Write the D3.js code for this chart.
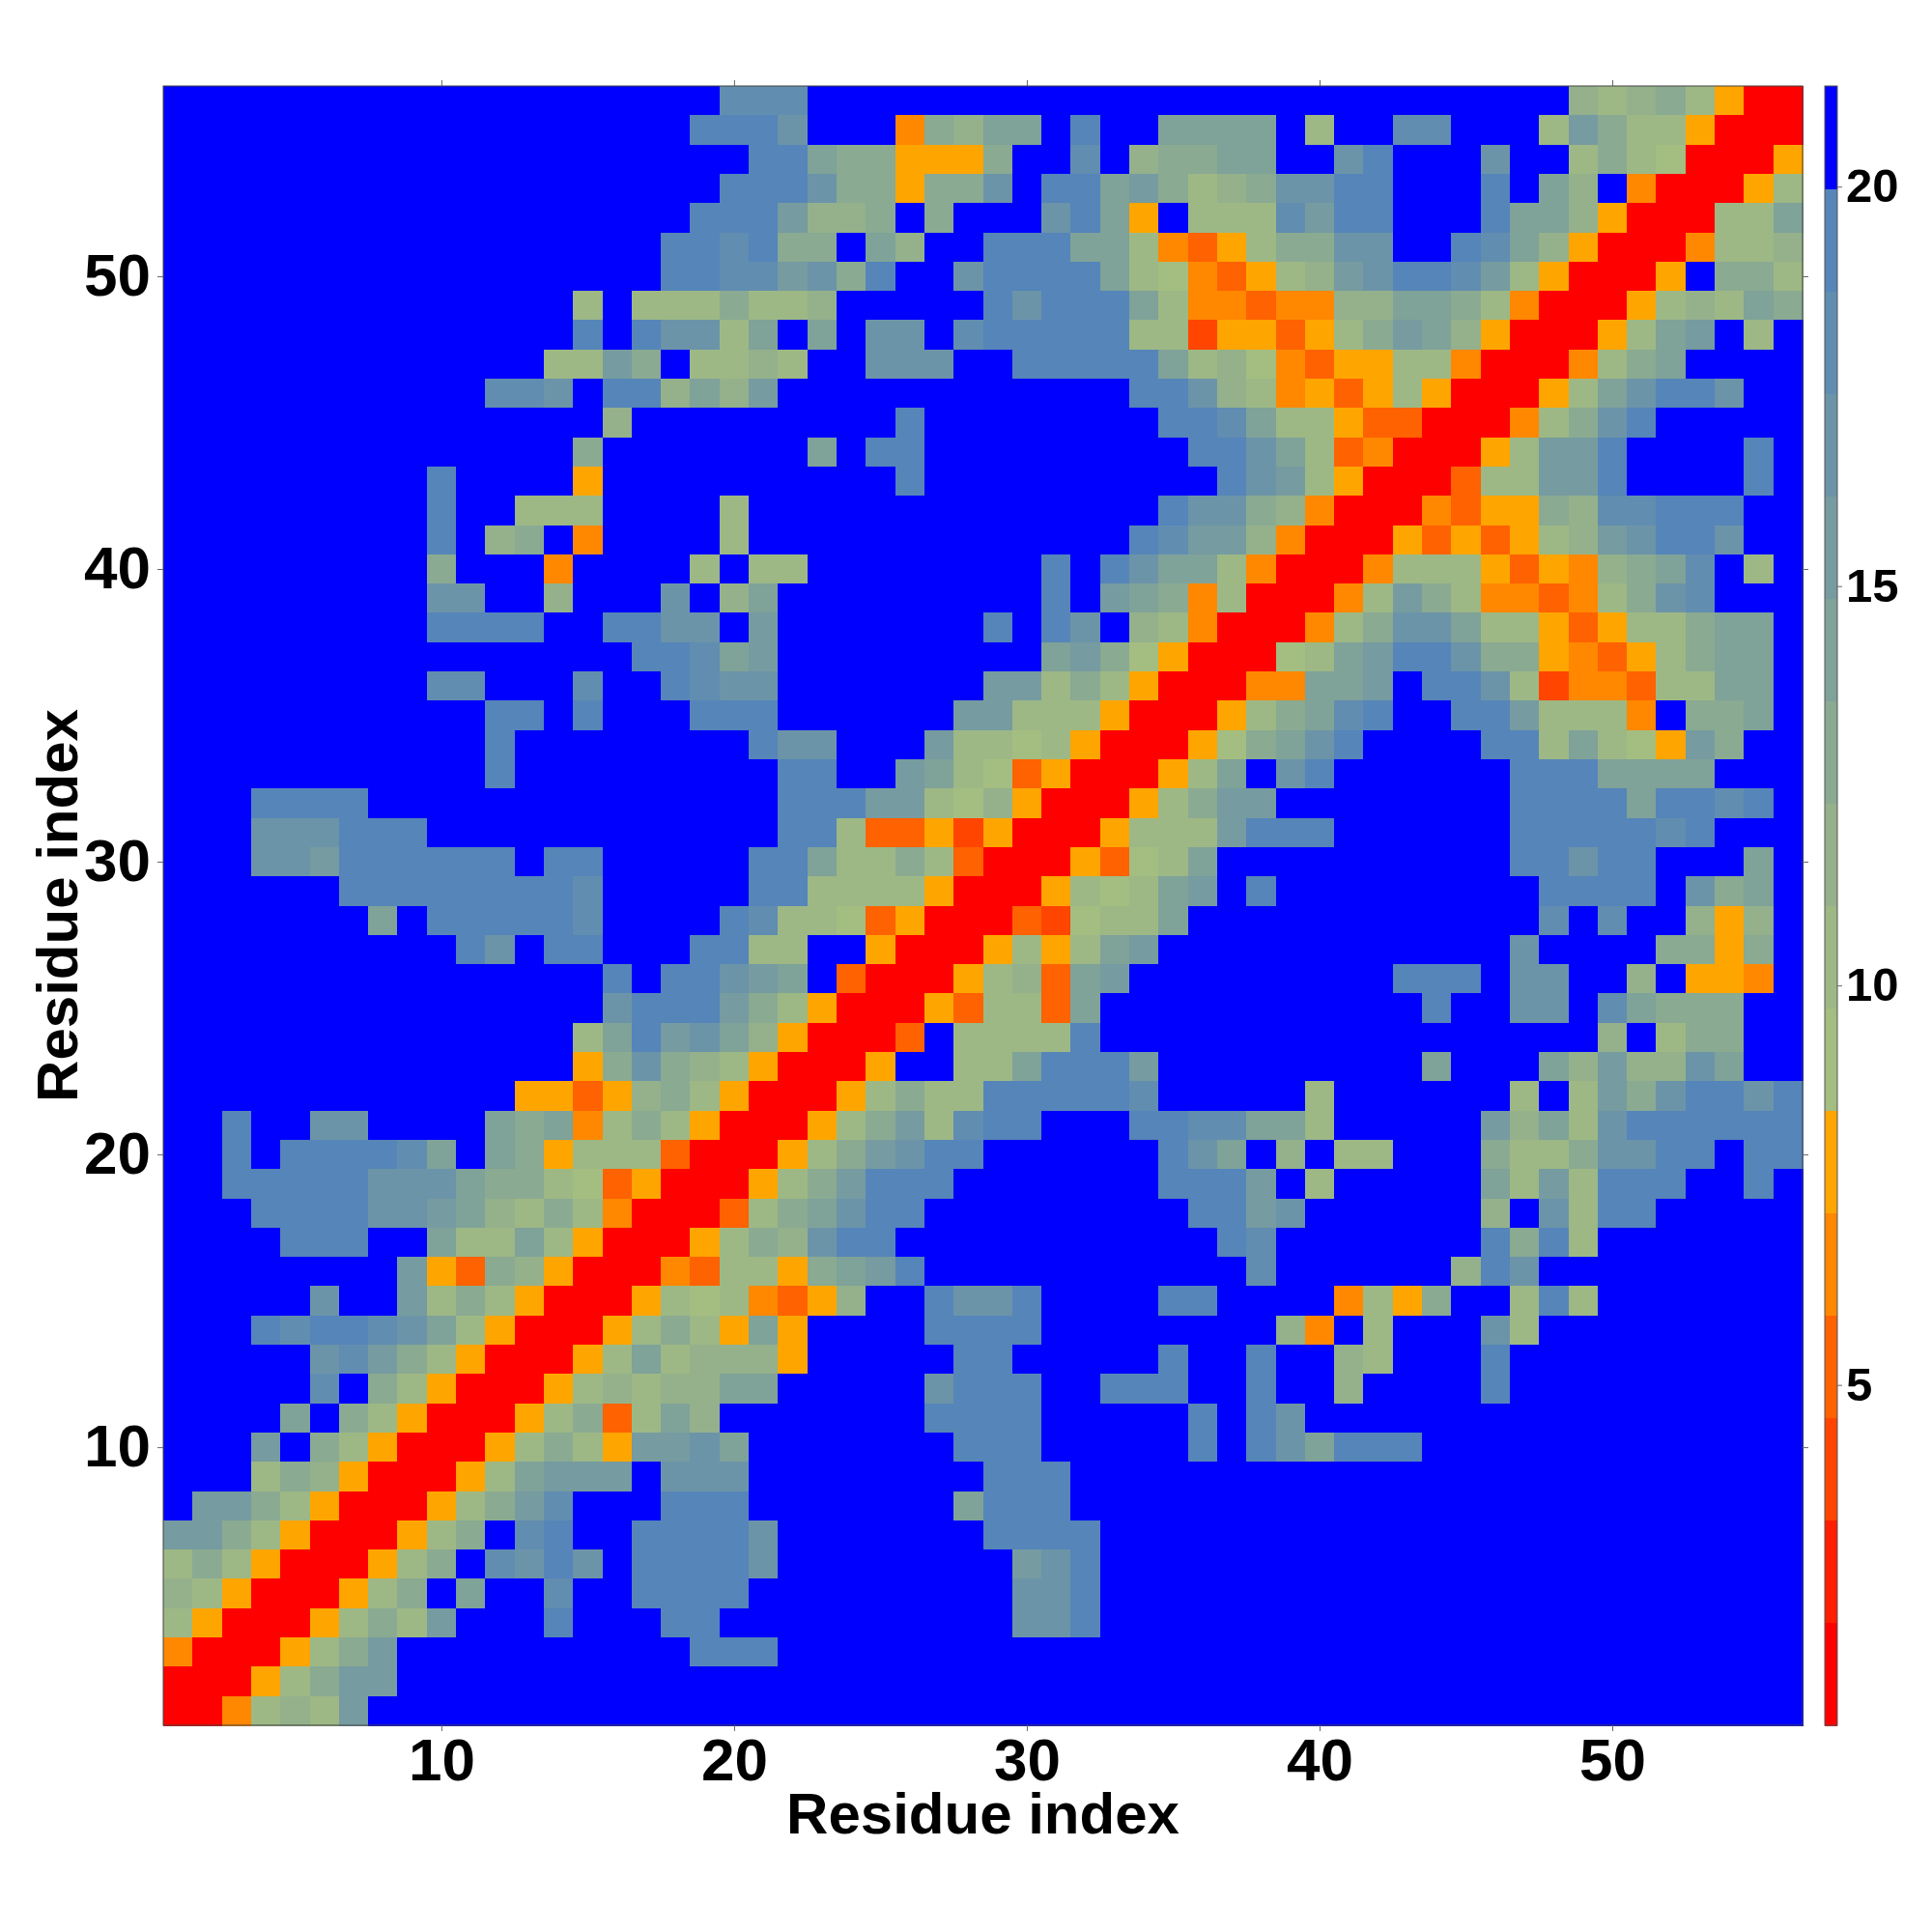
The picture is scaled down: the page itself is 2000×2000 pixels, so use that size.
<!DOCTYPE html>
<html>
<head>
<meta charset="utf-8">
<script src="https://cdn.jsdelivr.net/npm/d3@7"></script>
<style>
html,body{margin:0;padding:0;background:#fff}
svg{display:block}
text{font-family:"Liberation Sans",Arial,sans-serif;font-weight:bold;fill:#000}
</style>
</head>
<body>
<svg id="chart" width="2000" height="2000"></svg>
<script>
// Contact-map levels: one string per residue row, top row (56) first; each char is a colour band 0..f
const levelRows = [
"ffffffffffffffffff fdddfffffffffffffff fffffffffff87897500",
"ffffffffffffffffff eeecfff498aafeffaaa af7ffddfff7b9775000",
"ffffffffffffffffff ffeea995559ffdf899a affcefffcff79760005",
"ffffffffffffffffff feeec99599cfeeab978 9cceefffefa8f400057",
"ffffffffffffffffff eeeb889f9fffcea5f77 7dbeefffeaa8500077a",
"fffffffffffffffffe ede99fa8ffeeeaa7435 799ccffeda850004778",
"fffffffffffffffffe eddbc9effceeeea7643 578bceedb750005f997",
"ffffffffffffff7f77 79778fffffeceeea744 34488aa9740005787a9",
"ffffffffffffffefec c7afafccfdeeeee7725 53579ba8500057abf7f",
"fffffffffffff77b9f 7787ffcccffeeeeea78 64355774000479affff",
"fffffffffffddcfee8 a8bffffffffffffeec8 745357500057aceecff",
"fffffffffffffff8ff fffffffeffffffffeed a77533000479cefffff",
"ffffffffffffff9fff ffffafeefffffffffee ca73400057bbeffffef",
"fffffffffeffff5fff fffffffeffffffffffe cb75000377bbeffffef",
"fffffffffeff777fff f7ffffffffffffffecc 984000435598ddeeeff",
"fffffffffef89f4fff f7fffffffffffffedbb 840005353578bceecff",
"fffffffff9fff4ffff 7f77ffffffffefecaa7 40004777535489adf7f",
"fffffffffccff8fffc f8afffffffffefba947 00047b97443479cdfff",
"fffffffffeeeeffeec cfbfffffffefecf8740 00479cca77535779aaf",
"ffffffffffffffffee dabfffffffffab96500 067abeec99543579aaf",
"fffffffffddfffdffe dccfffffffbb7975000 44aabfeec7244377aaf",
"fffffffffffeefefff eeeffffffbb77750005 79adeffeeb7774f99af",
"fffffffffffeffffff ffeccfffb7767500056 9aceffffee7a765b9ff",
"fffffffffffeffffff fffeeffba763500057a fceffffffeeeaaaafff",
"fffeeeefffffffffff fffeeebb7685000579b bffffffffeeeeaeedef",
"fffccceeefffffffff fffee7335250005777b eeeffffffeeeeedefff",
"fffccbeeeeeefeefff ffeea779730005367af fffffffffeeceefffaf",
"ffffffeeeeeeeedfff ffee777750005767abf efffffffffeeeefc9af",
"fffffffafeeeeedfff fed7763500032677aff ffffffffffdfdff858f",
"ffffffffffecfeefff ee77ff50005757abfff fffffffffcffff9959f",
"fffffffffffffffefe ecbaf30005783abffff fffffeeefccff8f554f",
"fffffffffffffffcee eb97500053773afffff ffffffeffccfda999ff",
"ffffffffffffff7aeb ca850003f7777efffff ffffffffffff8f799ff",
"ffffffffffffff59c9 8750005ff77aeeebfff ffffffafffa8b88caff",
"ffffffffffff553589 7500057977eeeeedfff ff7ffffff7f7b9ceece",
"ffeffccffffa9a4797 5000579b7deefffeedd aa7fffffb8a7ceeeeee",
"ffefeeeedafa957773 000579bceeffffffeca f8f77fff9779cceefee",
"ffeeeeeccca9976350 00579beeefffffffeee bf7fffffa7b7eeeffef",
"fffeeeeccba8797400 0379aceefffffffffee bcffffff8fc7eefffff",
"ffffeeeffa77a75000 5798ceefffffffffffe dfffffffe9e7fffffff",
"ffffffffb539850004 37759abefffffffffff dffffff8ecfffffffff",
"fffffcffb797500057 674358ffecceffffeef fff4759ff7e7fffffff",
"fffedeedca75000579 75a5ffffeeeefffffff f84f7fffc7fffffffff",
"fffffcdb97500057a7 8885fffffeefffffeff eff87fffeffffffffff",
"fffffdf97500057878 8aafffffceeeffeeeff eff8ffffeffffffffff",
"ffffaf97500057937a 8fffffffeeeefffffef ecfffffffffffffffff",
"fffbf97500057975bb cafffffffeeefffffef ecaeeefffffffffffff",
"fff798500057abbbfc ccffffffffeeeffffff fffffffffffffffffff",
"fbb975000579bdfffe eefffffffaeeeffffff fffffffffffffffffff",
"bb975000579fdeffee eecfffffffeeeefffff fffffffffffffffffff",
"7975000579fdcecfee eecffffffffbcefffff fffffffffffffffffff",
"875000579faffdffee eefffffffffccefffff fffffffffffffffffff",
"750005797bfffefffe effffffffffccefffff fffffffffffffffffff",
"4000579bffffffffff eeeffffffffffffffff fffffffffffffffffff",
"000579bbffffffffff fffffffffffffffffff fffffffffffffffffff",
"004787bfffffffffff fffffffffffffffffff fffffffffffffffffff"
];
// Representative distance for each colour band, 0..f
const bandValues = [1.38,2.66,3.94,5.23,6.51,7.79,9.07,10.36,11.64,12.92,14.2,15.48,16.77,18.05,19.33,20.61];
const bandColors = ["#ff0000","#ff1e00","#ff4500","#ff6200","#ff8800","#ffa500",
  "#a4bd81","#9db885","#94b18b","#8aaa92","#7fa299","#769ba0","#6c94a8","#618db0","#5585b9","#0000ff"];
const axisTicks = [10,20,30,40,50];
const barTicks = [5,10,15,20];
const xTitle = "Residue index";
const yTitle = "Residue index";
const residueDomain = [0.5,56.5];
const valueDomain = [0.74,21.26];

const svg = d3.select("#chart");
const L=169,R=1866,T=89,B=1786,BL=1889,BR=1902;
const x = d3.scaleLinear().domain(residueDomain).range([L,R]);
const y = d3.scaleLinear().domain(residueDomain).range([B,T]);
const color = d3.scaleQuantize().domain(valueDomain).range(bandColors);
const barY = d3.scaleLinear().domain(valueDomain).range([B,T]);

const cells = [];
levelRows.forEach((s,ri)=>{
  const chars = s.replace(/ /g,"");
  const residueY = 56-ri;
  for(let c=0;c<chars.length;c++){
    cells.push({i:c+1,j:residueY,v:bandValues[parseInt(chars[c],16)]});
  }
});
svg.append("g").attr("shape-rendering","crispEdges").selectAll("rect").data(cells).join("rect")
  .attr("x",d=>x(d.i-.5)).attr("y",d=>y(d.j+.5))
  .attr("width",d=>x(d.i+.5)-x(d.i-.5)+.5).attr("height",d=>y(d.j-.5)-y(d.j+.5)+.5)
  .attr("fill",d=>color(d.v));

svg.append("rect").attr("x",L).attr("y",T).attr("width",R-L).attr("height",B-T)
  .attr("fill","none").attr("stroke","#444").attr("stroke-width",1);

function styleAxis(g,size){
  g.select(".domain").remove();
  g.selectAll(".tick line").attr("stroke","#666").attr("stroke-width",1);
  g.selectAll(".tick text").attr("font-size",size);
}
const gB = svg.append("g").attr("transform",`translate(0,${B})`)
  .call(d3.axisBottom(x).tickValues(axisTicks).tickSize(6).tickPadding(7));
styleAxis(gB,62);
const gL = svg.append("g").attr("transform",`translate(${L},0)`)
  .call(d3.axisLeft(y).tickValues(axisTicks).tickSize(6).tickPadding(7));
styleAxis(gL,62);
const gT = svg.append("g").attr("transform",`translate(0,${T})`)
  .call(d3.axisTop(x).tickValues(axisTicks).tickSize(6).tickFormat(""));
styleAxis(gT,62);
const gR = svg.append("g").attr("transform",`translate(${R},0)`)
  .call(d3.axisRight(y).tickValues(axisTicks).tickSize(6).tickFormat(""));
styleAxis(gR,62);

svg.append("text").attr("x",(L+R)/2).attr("y",1898).attr("text-anchor","middle")
  .attr("font-size",60).text(xTitle);
svg.append("text").attr("transform",`translate(80,${(T+B)/2}) rotate(-90)`).attr("text-anchor","middle")
  .attr("font-size",60).text(yTitle);

// colour bar
const step = (valueDomain[1]-valueDomain[0])/bandColors.length;
svg.append("g").attr("shape-rendering","crispEdges").selectAll("rect").data(bandColors).join("rect")
  .attr("x",BL).attr("width",BR-BL)
  .attr("y",(d,i)=>barY(valueDomain[0]+(i+1)*step))
  .attr("height",(d,i)=>barY(valueDomain[0]+i*step)-barY(valueDomain[0]+(i+1)*step)+.5)
  .attr("fill",d=>d);
svg.append("rect").attr("x",BL).attr("y",T).attr("width",BR-BL).attr("height",B-T)
  .attr("fill","none").attr("stroke","#555").attr("stroke-width",1);
const gC = svg.append("g").attr("transform",`translate(${BR},0)`)
  .call(d3.axisRight(barY).tickValues(barTicks).tickSize(5).tickPadding(4));
styleAxis(gC,49);
</script>
</body>
</html>
